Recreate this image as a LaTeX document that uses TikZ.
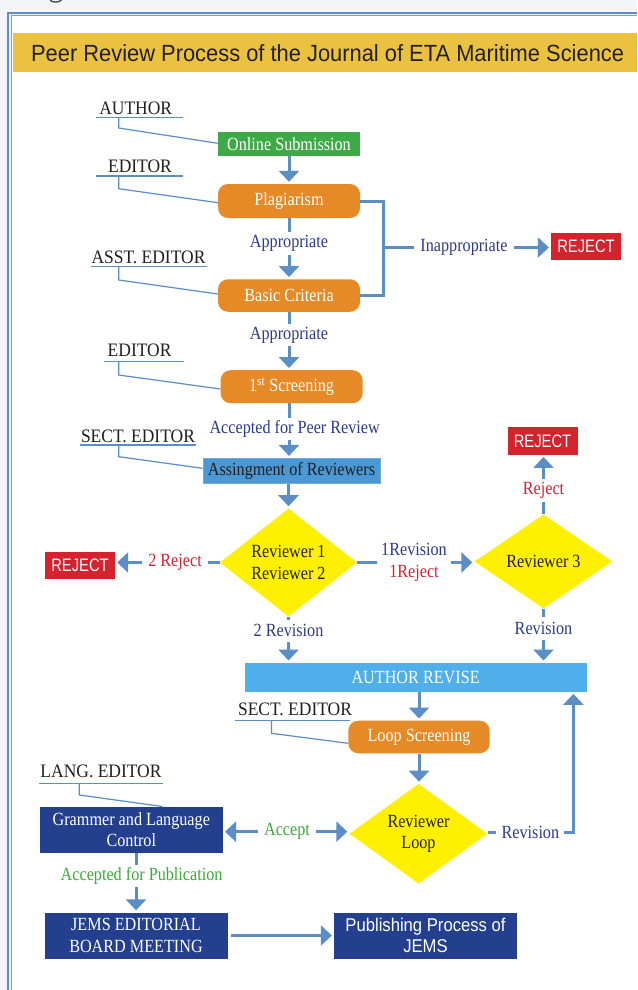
\documentclass[tikz,border=0pt]{standalone}
\usepackage{fontspec}
\setmainfont{Liberation Serif}[FakeStretch=0.87]
\newfontfamily\rolefont{Liberation Serif}[FakeStretch=0.92]
\newfontfamily\hdsans{Liberation Sans}[FakeStretch=0.935]
\newfontfamily\rjsans{Liberation Sans}[FakeStretch=0.82]
\newfontfamily\pubsans{Liberation Sans}[FakeStretch=0.9]
\usetikzlibrary{arrows.meta,shapes.geometric,calc}
\definecolor{bgray}{HTML}{F3F5F8}
\definecolor{frameblue}{HTML}{5B8DC8}
\definecolor{banner}{HTML}{EBC140}
\definecolor{gboxc}{HTML}{3DAA47}
\definecolor{oboxc}{HTML}{E68A27}
\definecolor{aboxc}{HTML}{4A98D4}
\definecolor{lbboxc}{HTML}{4FAFEA}
\definecolor{navyc}{HTML}{233F8E}
\definecolor{rboxc}{HTML}{D5232E}
\definecolor{ydia}{HTML}{FFF000}
\definecolor{arrblue}{HTML}{5B8DC6}
\definecolor{lnavy}{HTML}{2E3A8C}
\definecolor{lred}{HTML}{D3232F}
\definecolor{lgreen}{HTML}{3CAB3A}
\definecolor{ink}{HTML}{231F20}
\tikzset{
  base/.style={font=\fontsize{18.6}{21.5}\selectfont, align=center, inner sep=0pt},
  gbx/.style={base, fill=gboxc, text=white, minimum width=142pt, minimum height=24pt},
  obx/.style={base, fill=oboxc, text=white, rounded corners=10pt, minimum width=142pt, minimum height=34pt},
  abx/.style={base, fill=aboxc, draw=aboxc!80!white, line width=0.8pt, text=ink, minimum width=177pt, minimum height=25pt},
  lbx/.style={base, fill=lbboxc, text=white, minimum width=342pt, minimum height=29pt},
  nbx/.style={base, fill=navyc, text=white, minimum width=183pt, minimum height=46pt},
  rej/.style={base, font=\rjsans\fontsize{18}{20}\selectfont, fill=rboxc, text=white, minimum width=70pt, minimum height=27.5pt},
  dia/.style={base, shape=diamond, fill=ydia, text=ink, minimum width=137pt, minimum height=95pt},
  lbl/.style={base, fill=white, text=lnavy, inner xsep=6pt, minimum height=22pt},
  role/.style={font=\rolefont\fontsize{19}{21.5}\selectfont, text=ink, anchor=base, inner sep=0pt},
  conn/.style={draw=arrblue, line width=3pt},
  arr/.style={conn, -{Triangle[width=20pt,length=11pt]}, shorten >=2pt},
  lead/.style={draw=frameblue, line width=1.2pt},
}
\begin{document}
\begin{tikzpicture}[x=1pt,y=-1pt]
\useasboundingbox (0,0) rectangle (637,990);
\fill[bgray] (0,0) rectangle (637,990);
% remnant of a letter above the frame
\draw[ink!80, line width=1.4pt] (50,0) .. controls (51.5,2.6) and (59,2.8) .. (61.5,0);
% frame
\fill[frameblue!12] (7.8,12.7) rectangle (637,990);
\fill[white] (11.5,15.8) rectangle (637,990);
\draw[frameblue, line width=2pt] (7.8,990) -- (7.8,12.7) -- (637,12.7);
\draw[frameblue!80, line width=1pt] (11.5,990) -- (11.5,15.8) -- (637,15.8);
% title banner
\fill[banner] (13,33.3) rectangle (637,71.7);
\node[font=\hdsans\fontsize{23.4}{26}\selectfont, text=ink, anchor=base, inner sep=0pt] (title) at (327.6,61.7) {Peer Review Process of the Journal of ETA Maritime Science};

% main boxes
\node[gbx] (onl) at (289,144) {Online Submission};
\node[obx] (plag) at (289,201) {Plagiarism};
\node[obx, minimum height=32.5pt] (basic) at (289,295.5) {Basic Criteria};
\node[obx, minimum height=33pt] (scr1) at (291.6,386.7) {1\textsuperscript{st} Screening};
\node[abx] (assign) at (291.5,470.8) {Assingment of Reviewers};
\node[dia] (rev12) at (288.5,562.5) {Reviewer 1\\Reviewer 2};
\node[dia, minimum width=138pt, minimum height=94pt] (rev3) at (543.5,561.5) {Reviewer 3};
\node[rej] (rej1) at (586,246.4) {REJECT};
\node[rej] (rej2) at (80,565.5) {REJECT};
\node[rej] (rej3) at (542.5,441) {REJECT};
\node[lbx] (arev) at (415.6,677.2) {AUTHOR REVISE};
\node[obx, minimum width=141.4pt, minimum height=32.6pt] (loop) at (419,737) {Loop Screening};
\node[dia, minimum width=138pt, minimum height=99pt] (revloop) at (418.5,833.7) {Reviewer\\Loop};
\node[nbx] (gram) at (131.3,829.7) {Grammer and Language\\Control};
\node[nbx] (jems) at (136,935.5) {JEMS EDITORIAL\\BOARD MEETING};
\node[nbx, font=\pubsans\fontsize{18.5}{21}\selectfont] (pub) at (425.5,935.5) {Publishing Process of\\JEMS};

% labels on connectors
\node[lbl] (lapp1) at (289,243.5) {Appropriate};
\node[lbl] (lapp2) at (289,335) {Appropriate};
\node[lbl] (lacc) at (294.7,428.8) {Accepted for Peer Review};
\node[lbl] (linap) at (464,247.5) {Inappropriate};
\node[lbl, text=lred] (l2rej) at (175,562.5) {2 Reject};
\node[lbl, minimum height=43pt, inner xsep=4pt] (l1r) at (414,562.5) {1Revision\\\textcolor{lred}{1Reject}};
\node[lbl, text=lred, inner xsep=4pt] (lrej) at (543.5,490.5) {Reject};
\node[lbl] (lrev3) at (543.5,628.5) {Revision};
\node[lbl] (l2rev) at (288.5,630.8) {2 Revision};
\node[lbl, text=lgreen] (lacc2) at (287,831.7) {Accept};
\node[lbl, inner xsep=5pt] (lrevl) at (530.4,832.7) {Revision};
\node[lbl, text=lgreen] (lpub) at (141.6,876) {Accepted for Publication};

% role labels
\node[role] (rauthor) at (135.7,114) {AUTHOR};
\node[role] (redit1) at (140,172.7) {EDITOR};
\node[role] (rasst) at (148.5,263) {ASST. EDITOR};
\node[role] (redit2) at (139.6,356) {EDITOR};
\node[role] (rsect1) at (138,442.7) {SECT. EDITOR};
\node[role] (rsect2) at (295,715) {SECT. EDITOR};
\node[role] (rlang) at (101,777.3) {LANG. EDITOR};

\coordinate (uauthor) at (118.7,117.3);
\coordinate (uedit1) at (118.7,176);
\coordinate (uasst) at (118.7,266.7);
\coordinate (uedit2) at (118.7,361.7);
\coordinate (usect1) at (118.7,445);
\coordinate (usect2) at (271.5,720.7);
\coordinate (ulang) at (79.3,783.3);

\draw[lead] (96,117.3) -- (183,117.3);
\draw[lead] (96,176) -- (183,176);
\draw[lead] (91,266.7) -- (207,266.7);
\draw[lead] (103.7,361.7) -- (184,361.7);
\draw[lead] (80,445) -- (196,445);
\draw[lead] (235,720.7) -- (350,720.7);
\draw[lead] (39.4,783.3) -- (162.6,783.3);

\draw[lead] (uauthor) -- ++(0,10.7) -- (onl.west |- 0,143.3);
\draw[lead] (uedit1) -- ++(0,12.7) -- (plag.west |- 0,202.7);
\draw[lead] (uasst) -- ++(0,13.3) -- (basic.west |- 0,294);
\draw[lead] (uedit2) -- ++(0,13.3) -- (scr1.west |- 0,389);
\draw[lead] (usect1) -- ++(0,11.7) -- (assign.west |- 0,468.3);
\draw[lead] (usect2) -- ++(0,12.6) -- (loop.west |- 0,743.3);
\draw[lead] (ulang) -- ++(0,11.7) -- ([xshift=31.3pt]gram.north);

% connectors
\draw[arr] (onl.south) -- (plag.north);
\draw[conn] (plag.south) -- (lapp1.north);
\draw[arr] (lapp1.south) -- (basic.north);
\draw[conn] (basic.south) -- (lapp2.north);
\draw[arr] (lapp2.south) -- (lapp2.south |- scr1.north);
\draw[conn] (scr1.south -| plag.south) -- (lacc.north -| plag.south);
\draw[arr] (lacc.south -| plag.south) -- (assign.north -| plag.south);
\draw[arr] (assign.south -| rev12.north) -- (rev12.north);

\draw[conn] (plag.east) -- ++(23.5,0) |- (basic.east);
\coordinate (brk) at (383.5,247.5);
\draw[conn] (brk) -- (linap.west);
\draw[arr] (linap.east) -- (linap.east -| rej1.west);

\draw[conn] (rev12.west) -- (l2rej.east);
\draw[arr] (l2rej.west) -- (l2rej.west -| rej2.east);
\draw[conn] (rev12.east) -- (l1r.west);
\draw[arr] (l1r.east) -- (l1r.east -| rev3.west);
\draw[conn] (rev12.south) -- (l2rev.north);
\draw[arr] (l2rev.south) -- (l2rev.south |- arev.north);
\draw[conn] (rev3.north) -- (lrej.south);
\draw[arr] (lrej.north) -- (lrej.north |- rej3.south);
\draw[conn] (rev3.south) -- (lrev3.north);
\draw[arr] (lrev3.south) -- (lrev3.south |- arev.north);

\draw[arr] (arev.south -| loop.north) -- (loop.north);
\draw[arr] (loop.south) -- (loop.south |- revloop.north);
\draw[conn] (revloop.east |- lrevl.west) -- (lrevl.west);
\draw[arr] (lrevl.east) -| ([xshift=-13.4pt]arev.south east);
\draw[arr] (lacc2.west) -- (lacc2.west -| gram.east);
\draw[arr] (lacc2.east) -- (lacc2.east -| revloop.west);

\draw[conn] (gram.south -| jems.north) -- (lpub.north -| jems.north);
\draw[arr] (lpub.south -| jems.north) -- (jems.north);
\draw[arr, shorten <=3pt] (jems.east) -- (pub.west);
\end{tikzpicture}
\end{document}
